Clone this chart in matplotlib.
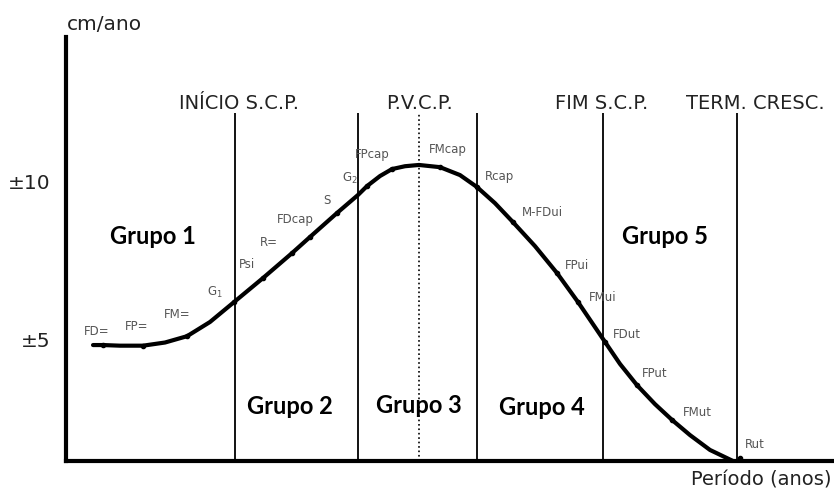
import numpy as np
import matplotlib
matplotlib.use("Agg")
import matplotlib.pyplot as plt

# growth velocity curve (x = period, arbitrary 0-100; y = cm/ano)
curve_x = [3.52, 4.82, 7.03, 10.03, 12.89, 15.76, 18.75, 21.88, 25.65, 29.43, 31.77,
           35.29, 38.02, 39.19, 40.89, 42.45, 44.14, 45.96, 48.70, 51.30, 53.52,
           55.86, 58.20, 61.07, 63.93, 66.67, 70.18, 72.14, 74.35, 76.69, 78.91,
           81.25, 83.85, 86.85]
curve_y = [4.81, 4.81, 4.79, 4.79, 4.89, 5.09, 5.54, 6.17, 6.93, 7.72, 8.23,
           8.99, 9.56, 9.84, 10.16, 10.38, 10.47, 10.51, 10.44, 10.19, 9.81,
           9.30, 8.70, 7.94, 7.09, 6.17, 4.91, 4.21, 3.54, 2.94, 2.44,
           1.96, 1.49, 1.14]

# marked stages on the curve
stage_names = ["FD=", "FP=", "FM=", "G$_1$", "Psi", "R=", "FDcap", "S", "G$_2$", "FPcap",
               "FMcap", "Rcap", "M-FDui", "FPui", "FMui", "FDut", "FPut", "FMut", "Rut"]
stage_x = [4.82, 10.03, 15.76, 21.88, 25.65, 29.43, 31.77, 35.29, 39.19, 42.45,
           48.70, 53.52, 58.20, 63.93, 66.67, 70.18, 74.35, 78.91, 87.76]
stage_y = [4.81, 4.79, 5.09, 6.17, 6.93, 7.72, 8.23, 8.99, 9.84, 10.38,
           10.44, 9.81, 8.70, 7.09, 6.17, 4.91, 3.54, 2.44, 1.24]
label_x = [4.04, 9.24, 14.45, 19.40, 23.57, 26.43, 29.82, 33.98, 36.98, 39.84,
           49.74, 56.51, 61.98, 66.54, 69.92, 73.05, 76.69, 82.16, 89.71]
label_y = [5.25, 5.41, 5.79, 6.49, 7.37, 8.04, 8.77, 9.40, 10.09, 10.85,
           11.01, 10.16, 8.99, 7.34, 6.33, 5.13, 3.92, 2.66, 1.65]

# phase markers
phase_x = [22.0, 38.02, 45.96, 53.52, 69.92, 87.37]
phase_style = ["-", "-", ":", "-", "-", "-"]
header_names = ["INÍCIO S.C.P.", "P.V.C.P.", "FIM S.C.P.", "TERM. CRESC."]
header_x = [22.53, 46.09, 69.79, 89.71]

group_names = ["Grupo 1", "Grupo 2", "Grupo 3", "Grupo 4", "Grupo 5"]
group_x = [11.33, 29.17, 45.96, 61.98, 78.0]
group_y = [8.23, 2.88, 2.91, 2.82, 8.23]

y_ticks = [5, 10]
y_ticklabels = ["±5", "±10"]

fig = plt.figure(figsize=(8.34, 4.9), dpi=100)
ax = fig.add_axes([66 / 834, 29 / 490, 768 / 834, 424 / 490])
ax.set_xlim(0, 100)
ax.set_ylim(1.14, 14.56)

ax.plot(curve_x, curve_y, color="black", lw=3, solid_capstyle="round",
        solid_joinstyle="round", zorder=3)
ax.plot(stage_x, stage_y, "o", color="black", ms=3, zorder=4)

for x, ls in zip(phase_x, phase_style):
    ax.vlines(x, 1.14, 12.15, colors="black", linestyles=ls, lw=1.3 if ls == "-" else 1.2)

for name, x, y in zip(stage_names, label_x, label_y):
    ax.text(x, y, name, ha="center", va="center", fontsize=8.5, color="#555555")

for name, x in zip(header_names, header_x):
    ax.text(x, 12.47, name, ha="center", va="center", fontsize=14, color="#222222")

for name, x, y in zip(group_names, group_x, group_y):
    ax.text(x, y, name, ha="center", va="center", fontsize=17,
            fontweight="bold", family="Lato", color="black")

ax.text(0.1, 14.94, "cm/ano", ha="left", va="center", fontsize=14.5,
        color="#222222", clip_on=False)
ax.text(99.7, 0.54, "Período (anos)", ha="right", va="center", fontsize=14,
        color="#222222", clip_on=False)

ax.set_yticks(y_ticks)
ax.set_yticklabels(y_ticklabels, fontsize=14.5, color="#222222")
ax.tick_params(axis="y", length=0, pad=11)
ax.set_xticks([])

for s in ["top", "right"]:
    ax.spines[s].set_visible(False)
ax.spines["left"].set_linewidth(3)
ax.spines["bottom"].set_linewidth(3)

plt.savefig("out.png", dpi=100)
